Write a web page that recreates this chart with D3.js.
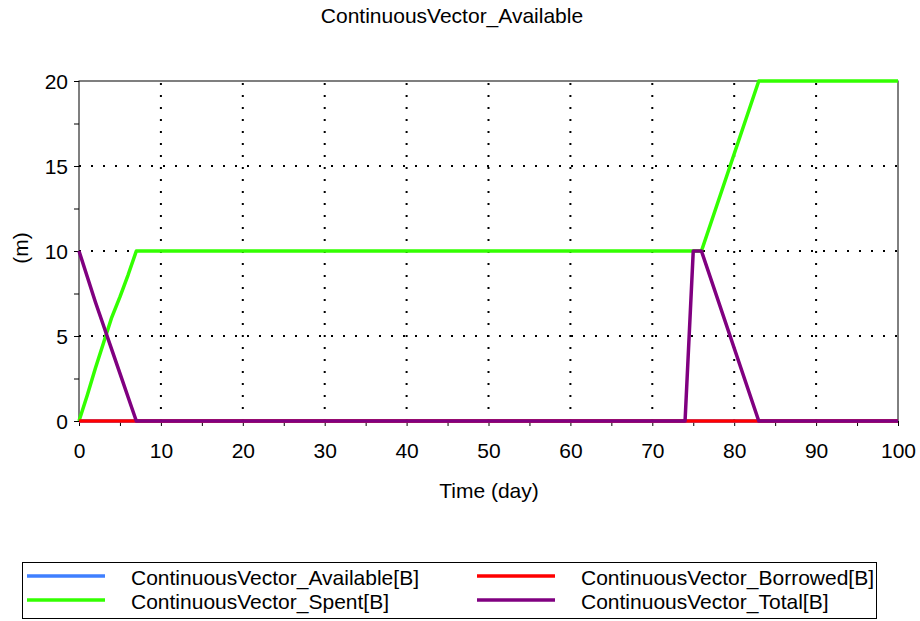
<!DOCTYPE html>
<html><head><meta charset="utf-8">
<script src="https://cdn.jsdelivr.net/npm/d3@7"></script>
<style>body{margin:0;background:#fff}svg{display:block}text{font-family:"Liberation Sans",Arial,sans-serif;fill:#000}</style>
</head><body>
<script>
const title = "ContinuousVector_Available";
const xLabel = "Time (day)";
const yLabel = "(m)";
const xTicks = [0,10,20,30,40,50,60,70,80,90,100];
const yTicks = [0,5,10,15,20];
const seriesNames = ["ContinuousVector_Available[B]","ContinuousVector_Spent[B]","ContinuousVector_Borrowed[B]","ContinuousVector_Total[B]"];
const seriesColors = ["#3f7fff","#33ff00","#ff0000","#800080"];
const availableT = [0,100];
const availableV = [0,0];
const spentT = [0,1,2,3,4,5,6,7,76,83,100];
const spentV = [0,1.5,3.1,4.6,6.1,7.3,8.6,10,10,20,20];
const borrowedT = [0,100];
const borrowedV = [0,0];
const totalT = [0,1,2,3,4,5,6,7,74,75,76,83,100];
const totalV = [10,8.5,7,5.6,4.2,2.8,1.4,0,0,10,10,0,0];

const W=920,H=621, L=79,R=898,T=81,B=421, FS="21px";
const svg=d3.select("body").append("svg").attr("width",W).attr("height",H);
const x=d3.scaleLinear().domain([0,100]).range([L,R]);
const y=d3.scaleLinear().domain([0,20]).range([B,T]);

svg.append("text").attr("x",452).attr("y",23).attr("text-anchor","middle").style("font-size",FS).text(title);

// grid
const g=svg.append("g");
g.selectAll(".gx").data(xTicks.filter(d=>d>0&&d<100)).enter().append("line")
 .attr("x1",d=>x(d)).attr("x2",d=>x(d)).attr("y1",B).attr("y2",T)
 .attr("stroke","#000").attr("stroke-width",2).attr("stroke-dasharray","2,10");
g.selectAll(".gy").data(yTicks.filter(d=>d>0&&d<20)).enter().append("line")
 .attr("y1",d=>y(d)).attr("y2",d=>y(d)).attr("x1",L).attr("x2",R)
 .attr("stroke","#000").attr("stroke-width",2).attr("stroke-dasharray","2,10");

// axes
const xAxis=svg.append("g").attr("transform",`translate(0,${B})`)
 .call(d3.axisBottom(x).tickValues(d3.range(0,101,5)).tickSize(5).tickPadding(6).tickFormat(d=>d%10===0?d:""));
const yAxis=svg.append("g").attr("transform",`translate(${L},0)`)
 .call(d3.axisLeft(y).tickValues(d3.range(0,20.1,2.5)).tickSize(5).tickPadding(6).tickFormat(d=>d%5===0?d:""));
[xAxis,yAxis].forEach(a=>{a.select(".domain").remove();a.selectAll("line").attr("stroke","#000");
 a.selectAll("text").style("font-size",FS).attr("font-family","Liberation Sans, Arial, sans-serif").attr("fill","#000");});
xAxis.selectAll("text").attr("dy",null).attr("y",37);
yAxis.selectAll("text").attr("dy","0.36em");
svg.append("rect").attr("x",L).attr("y",T).attr("width",R-L).attr("height",B-T).attr("fill","none").attr("stroke","#000").attr("stroke-width",1);

svg.append("text").attr("x",489).attr("y",498).attr("text-anchor","middle").style("font-size",FS).text(xLabel);
svg.append("text").attr("transform",`translate(28,${248}) rotate(-90)`).attr("text-anchor","middle").style("font-size",FS).text(yLabel);

// lines
const data=[[availableT,availableV],[spentT,spentV],[borrowedT,borrowedV],[totalT,totalV]];
const line=d3.line().x(d=>x(d[0])).y(d=>y(d[1]));
data.forEach((s,i)=>{
 const pts=s[0].map((t,j)=>[t,s[1][j]]);
 svg.append("path").datum(pts).attr("d",line).attr("fill","none").attr("stroke",seriesColors[i]).attr("stroke-width",3.5).attr("stroke-linejoin","round");
});

// legend
svg.append("rect").attr("x",22.5).attr("y",562.5).attr("width",854).attr("height",56).attr("fill","none").attr("stroke","#000").attr("stroke-width",1);
const lx=[27,477], ly=[576,600];
const legendOrder=[[0,0,0],[1,0,1],[2,1,0],[3,1,1]];
legendOrder.forEach(([i,c,r])=>{
 svg.append("line").attr("x1",lx[c]).attr("x2",lx[c]+78).attr("y1",ly[r]).attr("y2",ly[r]).attr("stroke",seriesColors[i]).attr("stroke-width",3.5);
 svg.append("text").attr("x",lx[c]+104).attr("y",ly[r]+9).style("font-size",FS).text(seriesNames[i]);
});
</script>
</body></html>
